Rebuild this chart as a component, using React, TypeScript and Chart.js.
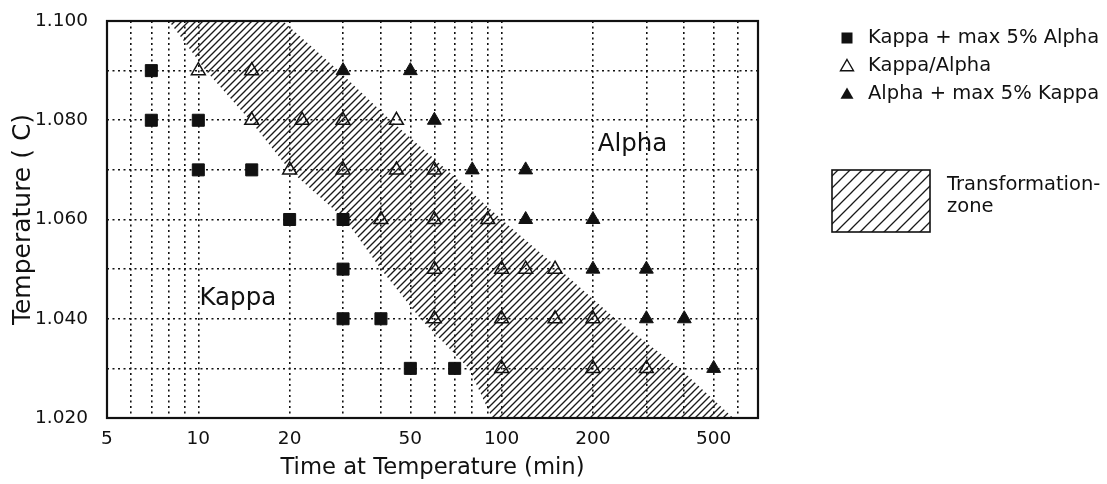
import React, { useEffect, useRef } from 'react';
import { Chart, registerables } from 'chart.js';

Chart.register(...registerables);

// ---------- data ----------
// Kappa + max 5% Alpha (filled squares)
const kappaX = [7, 7, 10, 10, 15, 20, 30, 30, 30, 40, 50, 70];
const kappaY = [1.09, 1.08, 1.08, 1.07, 1.07, 1.06, 1.06, 1.05, 1.04, 1.04, 1.03, 1.03];

// Kappa/Alpha (open triangles)
const mixedX = [10, 15, 15, 22, 30, 45, 20, 30, 45, 60, 40, 60, 90, 60, 100, 120, 150, 60, 100, 150, 200, 100, 200, 300];
const mixedY = [1.09, 1.09, 1.08, 1.08, 1.08, 1.08, 1.07, 1.07, 1.07, 1.07, 1.06, 1.06, 1.06, 1.05, 1.05, 1.05, 1.05, 1.04, 1.04, 1.04, 1.04, 1.03, 1.03, 1.03];

// Alpha + max 5% Kappa (filled triangles)
const alphaX = [30, 50, 60, 80, 120, 120, 200, 200, 300, 300, 400, 500];
const alphaY = [1.09, 1.09, 1.08, 1.07, 1.07, 1.06, 1.06, 1.05, 1.05, 1.04, 1.04, 1.03];

// Transformation zone: upper-right and lower-left boundaries
const zoneUpperX = [8, 19, 29, 43, 66, 100, 155, 237, 387, 580];
const zoneUpperY = [1.1, 1.1, 1.09, 1.08, 1.07, 1.06, 1.05, 1.04, 1.03, 1.02];
const zoneLowerX = [8, 10.6, 14.8, 20, 30.5, 40, 54, 78, 93, 580];
const zoneLowerY = [1.1, 1.09, 1.08, 1.07, 1.06, 1.05, 1.04, 1.03, 1.02, 1.02];

// axes
const xGridValues = [5, 6, 7, 8, 9, 10, 20, 30, 40, 50, 60, 70, 80, 90, 100, 200, 300, 400, 500, 600, 700];
const xLabelValues = [5, 10, 20, 50, 100, 200, 500];
const yGridValues = [1.02, 1.03, 1.04, 1.05, 1.06, 1.07, 1.08, 1.09, 1.1];
const yLabelValues = [1.02, 1.04, 1.06, 1.08, 1.1];

// text
const seriesLabels = ['Kappa + max 5% Alpha', 'Kappa/Alpha', 'Alpha + max 5% Kappa'];
const zoneLabelLines = ['Transformation-', 'zone'];
const regionLabels = ['Alpha', 'Kappa'];
const regionLabelX = [270, 13.5];
const regionLabelY = [1.075, 1.044];
const xTitle = 'Time at Temperature (min)';
const yTitle = 'Temperature ( C)';

const FONT = 'DejaVu Sans';
const INK = '#111';

function makeHatch(size: number, lw: number): CanvasPattern | string {
  const c = document.createElement('canvas');
  c.width = size;
  c.height = size;
  const g = c.getContext('2d');
  if (!g) return INK;
  g.strokeStyle = '#1a1a1a';
  g.lineWidth = lw;
  g.lineCap = 'square';
  g.beginPath();
  g.moveTo(-1, size + 1);
  g.lineTo(size + 1, -1);
  g.moveTo(-1, 1);
  g.lineTo(1, -1);
  g.moveTo(size - 1, size + 1);
  g.lineTo(size + 1, size - 1);
  g.stroke();
  const p = g.createPattern(c, 'repeat');
  return p || INK;
}

function pts(xs: number[], ys: number[]) {
  return xs.map((x, i) => ({ x, y: ys[i] }));
}

export default function App() {
  const ref = useRef<HTMLCanvasElement>(null);

  useEffect(() => {
    const canvas = ref.current;
    if (!canvas) return;
    const hatch = makeHatch(7, 1.35);
    const legendHatch = makeHatch(12, 1.3);

    const framePlugin = {
      id: 'frame',
      afterDatasetsDraw(chart: any) {
        const { ctx, chartArea: a } = chart;
        ctx.save();
        ctx.strokeStyle = INK;
        ctx.lineWidth = 2.2;
        ctx.strokeRect(a.left, a.top, a.right - a.left, a.bottom - a.top);
        ctx.restore();
      },
    };

    const regionPlugin = {
      id: 'regionLabels',
      afterDatasetsDraw(chart: any) {
        const { ctx } = chart;
        const xs = chart.scales.x;
        const ys = chart.scales.y;
        ctx.save();
        ctx.font = `24.5px "${FONT}"`;
        ctx.fillStyle = INK;
        ctx.textAlign = 'center';
        ctx.textBaseline = 'middle';
        regionLabels.forEach((t, i) => {
          ctx.fillText(t, xs.getPixelForValue(regionLabelX[i]), ys.getPixelForValue(regionLabelY[i]));
        });
        ctx.restore();
      },
    };

    const legendPlugin = {
      id: 'customLegend',
      afterDraw(chart: any) {
        const { ctx } = chart;
        ctx.save();
        ctx.fillStyle = INK;
        ctx.strokeStyle = INK;
        const mx = 847;
        const rows = [38, 66, 94];
        ctx.fillRect(mx - 5.5, rows[0] - 5.5, 11, 11);
        const tri = (cy: number, filled: boolean) => {
          const r = 7.5;
          ctx.beginPath();
          ctx.moveTo(mx, cy - r);
          ctx.lineTo(mx + r * 0.866, cy + r * 0.5);
          ctx.lineTo(mx - r * 0.866, cy + r * 0.5);
          ctx.closePath();
          if (filled) ctx.fill();
          else {
            ctx.lineWidth = 1.4;
            ctx.stroke();
          }
        };
        tri(rows[1] + 1, false);
        tri(rows[2] + 1, true);
        ctx.font = `19.5px "${FONT}"`;
        ctx.textAlign = 'left';
        ctx.textBaseline = 'middle';
        seriesLabels.forEach((t, i) => ctx.fillText(t, 868, rows[i]));
        ctx.fillStyle = legendHatch;
        ctx.fillRect(832, 170, 98, 62);
        ctx.lineWidth = 1.6;
        ctx.strokeRect(832, 170, 98, 62);
        ctx.fillStyle = INK;
        ctx.textBaseline = 'alphabetic';
        ctx.fillText(zoneLabelLines[0], 947, 190);
        ctx.fillText(zoneLabelLines[1], 947, 212);
        ctx.restore();
      },
    };

    const tickFont = { family: FONT, size: 18.5 };

    const chart = new Chart(canvas, {
      type: 'scatter',
      data: {
        datasets: [
          {
            label: 'zoneLower',
            data: pts(zoneLowerX, zoneLowerY),
            showLine: true,
            pointRadius: 0,
            borderWidth: 0,
            borderColor: 'rgba(0,0,0,0)',
            backgroundColor: 'rgba(0,0,0,0)',
            fill: false,
            order: 5,
          },
          {
            label: 'zoneUpper',
            data: pts(zoneUpperX, zoneUpperY),
            showLine: true,
            pointRadius: 0,
            borderWidth: 0,
            borderColor: 'rgba(0,0,0,0)',
            backgroundColor: hatch as any,
            fill: '-1',
            order: 5,
          },
          {
            label: seriesLabels[0],
            data: pts(kappaX, kappaY),
            pointStyle: 'rect',
            pointRadius: 8.5,
            backgroundColor: INK,
            borderColor: INK,
            borderWidth: 1,
            order: 0,
          },
          {
            label: seriesLabels[1],
            data: pts(mixedX, mixedY),
            pointStyle: 'triangle',
            pointRadius: 8,
            backgroundColor: 'rgba(0,0,0,0)',
            borderColor: INK,
            borderWidth: 1.5,
            order: 0,
          },
          {
            label: seriesLabels[2],
            data: pts(alphaX, alphaY),
            pointStyle: 'triangle',
            pointRadius: 8,
            backgroundColor: INK,
            borderColor: INK,
            borderWidth: 1,
            order: 0,
          },
        ],
      },
      options: {
        responsive: false,
        animation: false,
        devicePixelRatio: 1,
        events: [],
        layout: { padding: { top: 21, right: 349, bottom: 0, left: 0 } },
        plugins: {
          legend: { display: false },
          tooltip: { enabled: false },
        },
        scales: {
          x: {
            type: 'logarithmic',
            min: 5,
            max: 700,
            afterBuildTicks: (s: any) => {
              s.ticks = xGridValues.map((v) => ({ value: v }));
            },
            afterFit: (s: any) => {
              s.height = 66;
              s.paddingLeft = 0;
              s.paddingRight = 0;
            },
            ticks: {
              autoSkip: false,
              maxRotation: 0,
              minRotation: 0,
              padding: 10,
              color: INK,
              font: tickFont,
              callback: (v: any) => (xLabelValues.includes(Number(v)) ? String(v) : ''),
            },
            grid: { color: INK, lineWidth: 1.6, drawTicks: false },
            border: { display: false, dash: [2, 3.5] },
            title: {
              display: true,
              text: xTitle,
              color: INK,
              font: { family: FONT, size: 22.7, lineHeight: 1 },
              padding: { top: 0, bottom: 5 },
            },
          },
          y: {
            type: 'linear',
            min: 1.02,
            max: 1.1,
            afterBuildTicks: (s: any) => {
              s.ticks = yGridValues.map((v) => ({ value: v }));
            },
            afterFit: (s: any) => {
              s.width = 107;
              s.paddingTop = 0;
              s.paddingBottom = 0;
            },
            ticks: {
              padding: 19,
              color: INK,
              font: tickFont,
              callback: (v: any) =>
                yLabelValues.some((l) => Math.abs(l - Number(v)) < 1e-6) ? Number(v).toFixed(3) : '',
            },
            grid: { color: INK, lineWidth: 1.6, drawTicks: false },
            border: { display: false, dash: [2, 3.5] },
            title: {
              display: true,
              text: yTitle,
              color: INK,
              font: { family: FONT, size: 25, lineHeight: 1 },
              padding: { top: 11, bottom: 0 },
            },
          },
        },
      } as any,
      plugins: [framePlugin, regionPlugin, legendPlugin],
    });

    return () => chart.destroy();
  }, []);

  return (
    <div style={{ position: 'fixed', left: 0, top: 0, width: 1107, height: 484, background: '#fff' }}>
      <canvas ref={ref} width={1107} height={484} style={{ display: 'block' }} />
    </div>
  );
}
